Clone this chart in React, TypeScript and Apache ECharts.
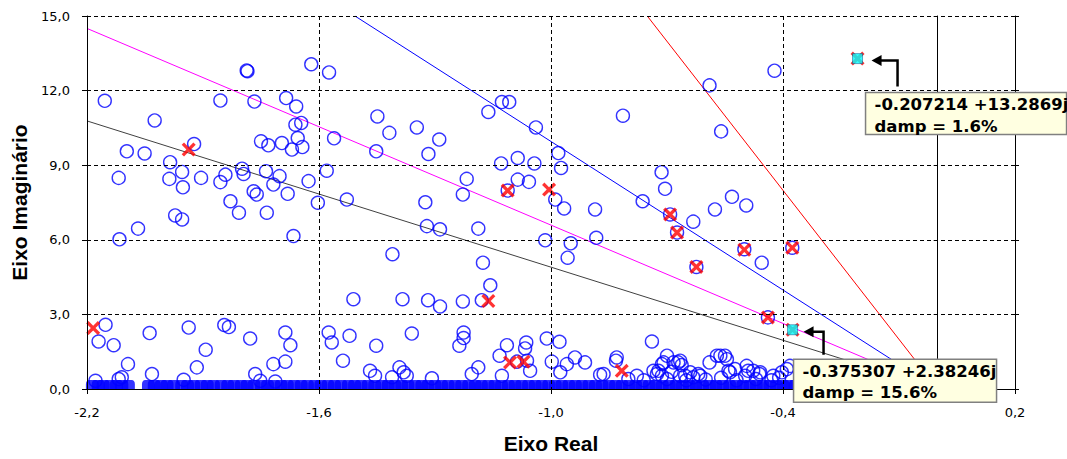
import React, { useEffect, useRef } from "react";
import * as echarts from "echarts";

// ---- axis setup (values) ----
const xMin = -2.2;
const xMax = 0.2;
const xStep = 0.6;
const yMin = 0;
const yMax = 15;
const yStep = 3;

// ---- poles with imaginary part (blue open circles) [real, imag] ----
const complexPoles: [number, number][] = [
  [-2.154, 11.59], [-2.025, 10.8], [-2.097, 9.56], [-2.051, 9.47], [-2.118, 8.49], [-1.985, 9.12],
  [-1.987, 8.45], [-1.954, 8.73], [-1.952, 8.11], [-1.905, 8.49], [-1.923, 9.85], [-1.855, 8.32],
  [-1.842, 8.62], [-1.829, 7.55], [-1.807, 7.09], [-1.799, 8.86], [-1.795, 8.65], [-1.769, 7.95],
  [-1.761, 7.82], [-1.735, 7.09], [-1.737, 8.76], [-1.702, 8.56], [-1.718, 8.22], [-1.681, 7.85],
  [-1.627, 8.36], [-1.603, 7.49], [-1.58, 8.78], [-1.528, 7.62], [-1.855, 11.6], [-1.787, 12.81],
  [-1.785, 12.78], [-1.767, 11.56], [-1.75, 9.96], [-1.731, 9.8], [-1.696, 9.89], [-1.67, 9.63],
  [-1.643, 9.73], [-1.655, 10.09], [-1.661, 10.63], [-1.646, 10.7], [-1.685, 11.7], [-1.659, 11.36],
  [-1.62, 13.06], [-1.574, 12.73], [-1.561, 10.08], [-2.068, 6.45], [-1.972, 6.98], [-1.954, 6.82],
  [-2.116, 6.02], [-1.666, 6.15], [-1.511, 3.61], [-2.152, 2.58], [-2.17, 1.91], [-2.131, 1.76],
  [-2.094, 1.0], [-2.038, 2.25], [-1.937, 2.47], [-1.893, 1.58], [-1.916, 0.87], [-2.032, 0.6],
  [-1.95, 0.37], [-1.845, 2.57], [-1.833, 2.49], [-1.778, 2.03], [-1.687, 2.27], [-1.674, 1.76],
  [-1.718, 1.0], [-1.687, 1.1], [-1.765, 0.6], [-1.752, 0.33], [-1.575, 2.27], [-1.567, 1.87],
  [-1.521, 2.14], [-1.538, 1.14], [-2.178, 0.33], [-2.118, 0.4], [-2.11, 0.47], [-1.713, 0.3],
  [-1.449, 10.96], [-1.418, 10.3], [-1.347, 10.52], [-1.289, 10.03], [-1.317, 9.45], [-1.452, 9.56],
  [-1.162, 11.14], [-1.127, 11.54], [-1.108, 11.54], [-1.039, 10.52], [-0.981, 9.49], [-0.974, 8.89],
  [-1.086, 9.29], [-1.129, 9.07], [-1.043, 9.07], [-1.086, 8.42], [-1.057, 8.33], [-1.218, 8.45],
  [-1.228, 7.82], [-1.325, 7.51], [-1.112, 7.98], [-0.989, 7.62], [-0.966, 7.26], [-0.886, 7.22],
  [-0.814, 10.99], [-0.763, 7.55], [-0.714, 8.72], [-0.705, 8.05], [-0.692, 7.02], [-0.632, 6.73],
  [-0.576, 7.22], [-0.59, 12.21], [-0.56, 10.36], [-1.321, 6.55], [-1.287, 6.42], [-1.188, 6.45],
  [-1.015, 5.98], [-0.949, 5.86], [-0.957, 5.28], [-0.883, 6.08], [-1.41, 5.42], [-1.176, 5.08],
  [-1.157, 4.17], [-1.384, 3.61], [-1.318, 3.57], [-1.287, 3.32], [-1.228, 3.52], [-1.179, 3.57],
  [-1.36, 2.23], [-1.452, 1.74], [-1.226, 2.27], [-1.226, 2.05], [-1.237, 1.74], [-1.114, 1.76],
  [-1.064, 1.87], [-1.067, 1.63], [-1.133, 1.34], [-1.011, 2.03], [-0.978, 1.9], [-0.998, 1.1],
  [-0.959, 1.0], [-0.938, 1.27], [-0.912, 1.07], [-0.976, 0.67], [-0.873, 0.57], [-0.83, 1.27],
  [-0.832, 1.14], [-0.739, 1.91], [-0.778, 0.53], [-0.7, 1.34], [-0.713, 1.0], [-0.683, 1.07],
  [-0.666, 1.14], [-0.662, 0.96], [-0.735, 0.73], [-0.726, 0.6], [-0.713, 0.53], [-0.688, 0.69],
  [-0.666, 0.53], [-0.64, 0.67], [-0.632, 0.47], [-0.614, 0.53], [-0.59, 1.07], [-0.571, 1.34],
  [-1.468, 0.73], [-1.455, 0.53], [-1.411, 0.47], [-1.392, 0.87], [-1.381, 0.67], [-1.373, 0.53],
  [-1.308, 0.43], [-1.205, 0.6], [-1.188, 0.87], [-1.127, 0.53], [-1.054, 0.73], [-1.088, 1.1],
  [-1.062, 1.14], [-0.624, 4.91], [-0.674, 6.29], [-0.5, 5.62], [-0.376, 5.68], [-0.439, 2.88],
  [-0.422, 12.8], [-0.532, 7.73], [-0.495, 7.38], [-0.455, 5.08], [-0.55, 1.34], [-0.537, 0.67],
  [-0.524, 0.8], [-0.494, 0.93], [-0.498, 0.53], [-0.461, 0.6], [-0.477, 0.73], [-0.403, 0.67],
  [-0.39, 0.8], [-0.382, 0.93], [-0.7, 0.4], [-0.65, 0.35], [-0.6, 0.38], [-0.56, 0.45],
  [-0.52, 0.35], [-0.47, 0.4], [-0.43, 0.35], [-0.41, 0.45], [-0.76, 0.35], [-0.8, 0.4],
  [-0.709, 1.07], [-0.722, 0.73], [-0.671, 1.07], [-0.653, 0.53], [-0.619, 0.6], [-0.562, 1.34],
  [-0.545, 1.2], [-0.541, 0.73], [-0.49, 0.73], [-0.459, 0.67], [-0.425, 0.53], [-0.864, 0.6],
];

// ---- real poles (imaginary part ~ 0), real part only ----
const realPoles: number[] = [
  -2.186, -2.171, -2.158, -2.14, -2.124, -2.11, -2.093, -2.041, -2.026, -2.008,
  -1.993, -1.976, -1.955, -1.94, -1.924, -1.905, -1.889, -1.873, -1.853, -1.836, -1.82, -1.801,
  -1.786, -1.768, -1.749, -1.733, -1.716, -1.698, -1.682, -1.664, -1.646, -1.63, -1.611, -1.595,
  -1.577, -1.56, -1.543, -1.524, -1.508, -1.491, -1.473, -1.456, -1.438, -1.421, -1.404, -1.386,
  -1.37, -1.351, -1.334, -1.318, -1.3, -1.283, -1.266, -1.248, -1.231, -1.213, -1.196, -1.18,
  -1.162, -1.145, -1.128, -1.11, -1.093, -1.076, -1.058, -1.041, -1.024, -1.006, -0.989, -0.972,
  -0.954, -0.937, -0.92, -0.902, -0.885, -0.868, -0.85, -0.833, -0.816, -0.798, -0.781, -0.764,
  -0.746, -0.729, -0.712, -0.694, -0.677, -0.66, -0.642, -0.625, -0.608, -0.59, -0.573, -0.556,
  -0.538, -0.521, -0.504, -0.486, -0.469, -0.452, -0.434, -0.417, -0.4, -0.384, -0.368, -0.352,
];

// ---- selected poles (red X) ----
const selectedPoles: [number, number][] = [
  [-2.184, 2.45], [-1.937, 9.63], [-1.162, 3.54], [-1.112, 7.98], [-1.005, 8.02], [-0.692, 7.02],
  [-0.674, 6.29], [-0.624, 4.91], [-0.5, 5.6], [-0.376, 5.68], [-0.439, 2.88], [-1.106, 1.07],
  [-1.071, 1.1], [-0.817, 0.73],
];

// ---- highlighted poles with their labels ----
const highlightedPoles: [number, number][] = [
  [-0.207214, 13.2869],
  [-0.375307, 2.38246],
];
const highlightLabels: string[] = ["-0.207214 +13.2869j", "-0.375307 +2.38246j"];
const highlightDamping: string[] = ["damp = 1.6%", "damp = 15.6%"];

// ---- constant damping lines (5%, 10%, 15%, 20%) ----
const damp20Line: [number, number][] = [[-2.2, 10.78], [0, 0]];
const damp15Line: [number, number][] = [[-2.2, 14.5], [0, 0]];
const damp10Line: [number, number][] = [[-1.507, 15], [0, 0]];
const damp05Line: [number, number][] = [[-0.751, 15], [0, 0]];

const fmt = (v: number) => v.toFixed(1).replace(".", ",");

const X_PATH =
  "path://M0,2 L2,0 L6,4 L10,0 L12,2 L8,6 L12,10 L10,12 L6,8 L2,12 L0,10 L4,6 Z";
const BAND_PATH = "path://M0,10 L0,5 Q0,0 5,0 L15,0 Q20,0 20,5 L20,10 Z";

export default function App() {
  const ref = useRef<HTMLDivElement>(null);

  useEffect(() => {
    if (!ref.current) return;
    const chart = echarts.init(ref.current, undefined, { renderer: "svg" });

    const gridLine = { color: "#000", type: [4, 3] as number[], width: 1 };
    const labelFont = { fontFamily: "DejaVu Sans", fontSize: 13, color: "#000" };
    const titleFont = {
      fontFamily: "Liberation Sans, Arial",
      fontWeight: "bold" as const,
      fontSize: 21,
      color: "#000",
    };
    const lineSeries = (data: [number, number][], color: string) => ({
      type: "line",
      data,
      showSymbol: false,
      symbol: "none",
      silent: true,
      lineStyle: { color, width: 1 },
      z: 1,
    });

    const baseY = { type: "value", min: yMin, max: yMax, interval: yStep };

    chart.setOption({
      animation: false,
      backgroundColor: "#fff",
      grid: { left: 87, right: 52, top: 16, bottom: 69 },
      xAxis: {
        type: "value",
        min: xMin,
        max: xMax,
        interval: xStep,
        name: "Eixo Real",
        nameLocation: "middle",
        nameGap: 44,
        nameTextStyle: titleFont,
        axisLine: { onZero: false, lineStyle: { color: "#000", width: 1 } },
        axisTick: { show: true, length: 5, lineStyle: { color: "#000" } },
        axisLabel: { formatter: fmt, margin: 17, ...labelFont },
        splitLine: { show: true, lineStyle: gridLine },
        z: 5,
      },
      yAxis: [
        {
          ...baseY,
          position: "left",
          name: "Eixo Imaginário",
          nameLocation: "middle",
          nameGap: 54,
          nameTextStyle: titleFont,
          axisLine: { show: true, onZero: false, lineStyle: { color: "#000", width: 1 } },
          axisTick: { show: true, length: 5, lineStyle: { color: "#000" } },
          axisLabel: { formatter: fmt, margin: 17, ...labelFont },
          splitLine: { show: true, lineStyle: gridLine },
          z: 5,
        },
        {
          ...baseY,
          position: "left",
          axisLine: { show: true, onZero: true, lineStyle: { color: "#000", width: 1 } },
          axisTick: { show: true, length: 4, lineStyle: { color: "#000" } },
          axisLabel: { show: false },
          splitLine: { show: false },
          z: 5,
        },
        {
          ...baseY,
          position: "right",
          axisLine: { show: true, onZero: true, lineStyle: { color: "#000", width: 1 } },
          axisTick: { show: true, length: 4, lineStyle: { color: "#000" } },
          axisLabel: { show: false },
          splitLine: { show: false },
          z: 5,
        },
      ],
      series: [
        lineSeries(damp20Line, "#404040"),
        lineSeries(damp15Line, "#ff00ff"),
        lineSeries(damp10Line, "#0000ff"),
        lineSeries(damp05Line, "#ff0000"),
        {
          type: "scatter",
          data: realPoles.map((x) => [x, 0]),
          symbol: BAND_PATH,
          symbolSize: [13, 9],
          symbolOffset: [0, "-50%"],
          itemStyle: { color: "#0000ff" },
          clip: false,
          silent: true,
          z: 2,
        },
        {
          type: "scatter",
          data: complexPoles,
          symbol: "circle",
          symbolSize: 13,
          itemStyle: { color: "rgba(0,0,0,0)", borderColor: "#0000ff", borderWidth: 1.4 },
          clip: false,
          silent: true,
          z: 3,
        },
        {
          type: "scatter",
          data: [...selectedPoles, ...highlightedPoles],
          symbol: X_PATH,
          symbolSize: 14,
          itemStyle: { color: "#ff0000" },
          clip: false,
          silent: true,
          z: 4,
        },
        {
          type: "scatter",
          data: highlightedPoles,
          symbol: "rect",
          symbolSize: 10,
          itemStyle: { color: "#00ffff", borderColor: "#004080", borderWidth: 0.6 },
          clip: false,
          silent: true,
          z: 4,
        },
      ],
    });

    // annotation callouts anchored on the highlighted poles
    const layouts = [
      { box: [8, 34, 201, 42], tipDx: 14, cornerDx: 40, bottomDy: 28 },
      { box: [1, 29.5, 203, 43], tipDx: 11, cornerDx: 31, bottomDy: 25 },
    ];
    const graphics: any[] = [];
    highlightedPoles.forEach((p, i) => {
      const px = chart.convertToPixel({ seriesIndex: 5 }, p) as number[];
      const L = layouts[i];
      const cx = px[0];
      const cy = px[1];
      const tipX = cx + L.tipDx;
      const cornerX = cx + L.cornerDx;
      graphics.push({
        type: "polyline",
        z: 100,
        silent: true,
        shape: { points: [[cornerX, cy + L.bottomDy], [cornerX, cy + 2], [tipX + 8, cy + 2]] },
        style: { stroke: "#000", lineWidth: 2.5, fill: null },
      });
      graphics.push({
        type: "polygon",
        z: 100,
        silent: true,
        shape: { points: [[tipX, cy + 2], [tipX + 10, cy - 3.5], [tipX + 10, cy + 7.5]] },
        style: { fill: "#000" },
      });
      const bx = cx + L.box[0];
      const by = cy + L.box[1];
      graphics.push({
        type: "rect",
        z: 100,
        silent: true,
        shape: { x: bx, y: by, width: L.box[2], height: L.box[3] },
        style: { fill: "#ffffe1", stroke: "#808080", lineWidth: 1.5 },
      });
      graphics.push({
        type: "text",
        z: 101,
        silent: true,
        x: bx + 9,
        y: by + 12,
        style: {
          text: highlightLabels[i],
          fontFamily: "DejaVu Sans",
          fontWeight: "bold",
          fontSize: 16.5,
          fill: "#000",
          verticalAlign: "middle",
        },
      });
      graphics.push({
        type: "text",
        z: 101,
        silent: true,
        x: bx + 9,
        y: by + 33.5,
        style: {
          text: highlightDamping[i],
          fontFamily: "DejaVu Sans",
          fontWeight: "bold",
          fontSize: 16.5,
          fill: "#000",
          verticalAlign: "middle",
        },
      });
    });
    chart.setOption({ graphic: graphics });

    return () => chart.dispose();
  }, []);

  return (
    <div
      ref={ref}
      style={{ position: "fixed", left: 0, top: 0, width: 1067, height: 459, background: "#fff" }}
    />
  );
}
